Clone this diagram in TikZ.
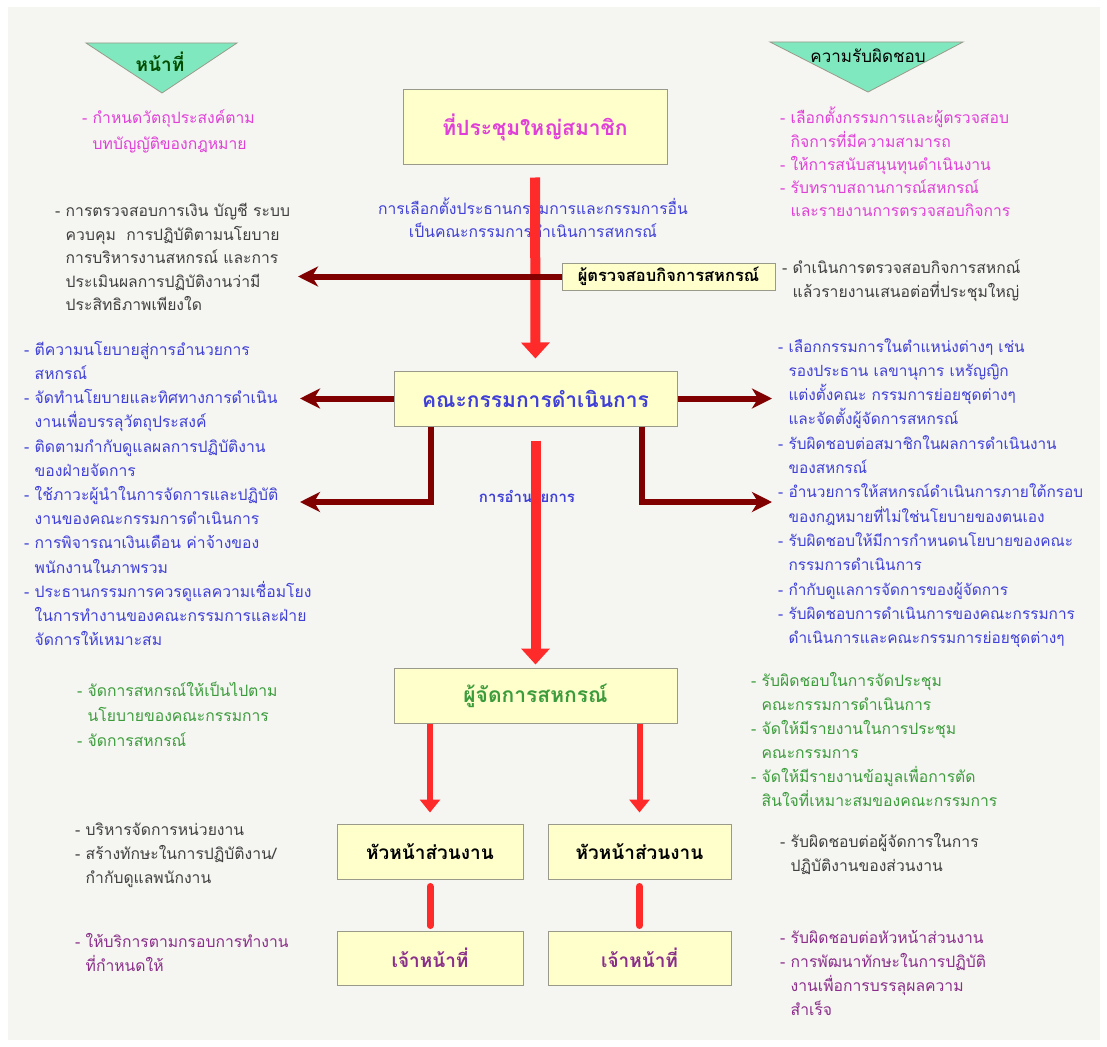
\documentclass[tikz,border=0pt]{standalone}
\usepackage{fontspec}
\newfontfamily\thaifont[Script=Thai]{Loma}
\usetikzlibrary{positioning,arrows.meta}
\definecolor{paper}{HTML}{F5F5F1}
\definecolor{boxfill}{HTML}{FFFFCC}
\definecolor{boxline}{HTML}{9A9A8A}
\definecolor{mint}{HTML}{80E8BE}
\definecolor{pinktxt}{HTML}{E040D8}
\definecolor{bluetxt}{HTML}{4040D8}
\definecolor{greentxt}{HTML}{3C9C3C}
\definecolor{greytxt}{HTML}{404040}
\definecolor{purpletxt}{HTML}{8A2E8A}
\definecolor{arrowred}{HTML}{FF2A2A}
\definecolor{darkred}{HTML}{800000}
\newcommand\indl{\phantom{-\ }}

\begin{document}
\begin{tikzpicture}[x=1pt,y=-1pt,
  every node/.style={font=\thaifont},
  orgbox/.style={draw=boxline, fill=boxfill, line width=1pt, inner sep=0pt},
  titlefont/.style={font=\thaifont\bfseries\fontsize{21}{24}\selectfont},
  unitfont/.style={font=\thaifont\bfseries\fontsize{19}{22}\selectfont},
  notes/.style={anchor=north west, align=left, inner sep=0pt, font=\thaifont\fontsize{15.7}{24}\selectfont},
  bigred/.style={draw=arrowred, line width=10pt, -{Triangle[width=28pt,length=16pt]}},
  smallred/.style={draw=arrowred, line width=6pt, -{Triangle[width=20pt,length=13pt]}},
  redlink/.style={draw=arrowred, line width=7pt, line cap=round},
  darkarrow/.style={draw=darkred, line width=6pt, -{Stealth[width=20pt,length=20pt,inset=6pt]}}
  ]
	%% page and background
	\fill[white] (0,0) rectangle (1107,1046);
	\fill[paper] (8,7) rectangle (1100,1040);
	\useasboundingbox (0,0) rectangle (1107,1046);

	% heading triangles
	\filldraw[fill=mint, draw=boxline, line width=0.8pt] (86,43) -- (237,43) -- (162,93) -- cycle;
	\filldraw[fill=mint, draw=boxline, line width=0.8pt] (770,42) -- (963,42) -- (868,92) -- cycle;
	\node[text=green!30!black, font=\thaifont\bfseries\fontsize{19}{22}\selectfont] (dutyHead) at (160,62) {หน้าที่};
	\node[text=black, font=\thaifont\fontsize{17}{20}\selectfont] (respHead) at (868,56) {ความรับผิดชอบ};

	% boxes of the chart
	\node[orgbox, titlefont, text=pinktxt, minimum width=264pt, minimum height=74pt] (meeting) at (535,127) {ที่ประชุมใหญ่สมาชิก};
	\node[orgbox, font=\thaifont\bfseries\fontsize{16.5}{20}\selectfont, minimum width=213pt, minimum height=27pt] (auditor) at (668.5,276.5) {ผู้ตรวจสอบกิจการสหกรณ์};
	\node[orgbox, titlefont, text=bluetxt, minimum width=283pt, minimum height=55pt] (board) at (535.5,398.5) {คณะกรรมการดำเนินการ};
	\node[orgbox, titlefont, text=greentxt, minimum width=283pt, minimum height=55pt] (manager) at (535.5,695.5) {ผู้จัดการสหกรณ์};
	\node[orgbox, unitfont, minimum width=186pt, minimum height=55pt] (head1) at (430,851.5) {หัวหน้าส่วนงาน};
	\node[orgbox, unitfont, minimum width=183pt, minimum height=55pt] (head2) at (639.5,851.5) {หัวหน้าส่วนงาน};
	\node[orgbox, unitfont, text=purpletxt, minimum width=186pt, minimum height=54pt] (staff1) at (430,958) {เจ้าหน้าที่};
	\node[orgbox, unitfont, text=purpletxt, minimum width=183pt, minimum height=54pt] (staff2) at (639.5,958) {เจ้าหน้าที่};

	% labels on the main line
	\node[align=center, inner sep=0pt, text=bluetxt, font=\thaifont\fontsize{15.7}{23}\selectfont] (electNote) at (533,218) {การเลือกตั้งประธานกรรมการและกรรมการอื่น\\เป็นคณะกรรมการดำเนินการสหกรณ์};
	\node[text=bluetxt, font=\thaifont\bfseries\fontsize{15}{20}\selectfont] (directing) at (527,496) {การอำนวยการ};

	% duties (left) and responsibilities (right)
	\node[notes, text=pinktxt, font=\thaifont\fontsize{15.7}{26}\selectfont] (meetDuty) at (82,110) {- กำหนดวัตถุประสงค์ตาม\\\indl บทบัญญัติของกฎหมาย};
	\node[notes, text=greytxt, font=\thaifont\fontsize{15.7}{23.5}\selectfont] (auditDuty) at (55,203) {- การตรวจสอบการเงิน บัญชี ระบบ\\\indl ควบคุม\ \ การปฏิบัติตามนโยบาย\\\indl การบริหารงานสหกรณ์ และการ\\\indl ประเมินผลการปฏิบัติงานว่ามี\\\indl ประสิทธิภาพเพียงใด};
	\node[notes, text=pinktxt, font=\thaifont\fontsize{15.7}{23.2}\selectfont] (meetResp) at (780,107) {- เลือกตั้งกรรมการและผู้ตรวจสอบ\\\indl กิจการที่มีความสามารถ\\- ให้การสนับสนุนทุนดำเนินงาน\\- รับทราบสถานการณ์สหกรณ์\\\indl และรายงานการตรวจสอบกิจการ};
	\node[notes, text=greytxt] (auditResp) at (782,260) {- ดำเนินการตรวจสอบกิจการสหกณ์\\\indl แล้วรายงานเสนอต่อที่ประชุมใหญ่};
	\node[notes, text=bluetxt, font=\thaifont\fontsize{15.7}{24.2}\selectfont] (boardDuty) at (24,341) {- ตีความนโยบายสู่การอำนวยการ\\\indl สหกรณ์\\- จัดทำนโยบายและทิศทางการดำเนิน\\\indl งานเพื่อบรรลุวัตถุประสงค์\\- ติดตามกำกับดูแลผลการปฏิบัติงาน\\\indl ของฝ่ายจัดการ\\- ใช้ภาวะผู้นำในการจัดการและปฏิบัติ\\\indl งานของคณะกรรมการดำเนินการ\\- การพิจารณาเงินเดือน ค่าจ้างของ\\\indl พนักงานในภาพรวม\\- ประธานกรรมการควรดูแลความเชื่อมโยง\\\indl ในการทำงานของคณะกรรมการและฝ่าย\\\indl จัดการให้เหมาะสม};
	\node[notes, text=bluetxt, font=\thaifont\fontsize{15.4}{24.3}\selectfont] (boardResp) at (778,338) {- เลือกกรรมการในตำแหน่งต่างๆ เช่น\\\indl รองประธาน เลขานุการ เหรัญญิก\\\indl แต่งตั้งคณะ กรรมการย่อยชุดต่างๆ\\\indl และจัดตั้งผู้จัดการสหกรณ์\\- รับผิดชอบต่อสมาชิกในผลการดำเนินงาน\\\indl ของสหกรณ์\\- อำนวยการให้สหกรณ์ดำเนินการภายใต้กรอบ\\\indl ของกฎหมายที่ไม่ใช่นโยบายของตนเอง\\- รับผิดชอบให้มีการกำหนดนโยบายของคณะ\\\indl กรรมการดำเนินการ\\- กำกับดูแลการจัดการของผู้จัดการ\\- รับผิดชอบการดำเนินการของคณะกรรมการ\\\indl ดำเนินการและคณะกรรมการย่อยชุดต่างๆ};
	\node[notes, text=greentxt, font=\thaifont\fontsize{15.7}{25}\selectfont] (managerDuty) at (77,682) {- จัดการสหกรณ์ให้เป็นไปตาม\\\indl นโยบายของคณะกรรมการ\\- จัดการสหกรณ์};
	\node[notes, text=greentxt] (managerResp) at (751,672) {- รับผิดชอบในการจัดประชุม\\\indl คณะกรรมการดำเนินการ\\- จัดให้มีรายงานในการประชุม\\\indl คณะกรรมการ\\- จัดให้มีรายงานข้อมูลเพื่อการตัด\\\indl สินใจที่เหมาะสมของคณะกรรมการ};
	\node[notes, text=greytxt] (headDuty) at (75,823) {- บริหารจัดการหน่วยงาน\\- สร้างทักษะในการปฏิบัติงาน/\\\indl กำกับดูแลพนักงาน};
	\node[notes, text=greytxt] (headResp) at (780,833) {- รับผิดชอบต่อผู้จัดการในการ\\\indl ปฏิบัติงานของส่วนงาน};
	\node[notes, text=purpletxt] (staffDuty) at (75,933) {- ให้บริการตามกรอบการทำงาน\\\indl ที่กำหนดให้};
	\node[notes, text=purpletxt] (staffResp) at (780,930) {- รับผิดชอบต่อหัวหน้าส่วนงาน\\- การพัฒนาทักษะในการปฏิบัติ\\\indl งานเพื่อการบรรลุผลความ\\\indl สำเร็จ};

	% free ends of the dark arrows
	\coordinate (auditTip) at (298,276.5);
	\coordinate (tipL1) at (300,398.5);
	\coordinate (tipR1) at (772,398.5);
	\coordinate (tipL2) at (300,502);
	\coordinate (tipR2) at (772,502);

	% red main line
	\draw[bigred, shorten <=13pt, shorten >=12pt] (meeting) -- (board);
	\draw[bigred, shorten <=14pt, shorten >=3pt] (board) -- (manager);
	\draw[smallred, shorten >=11pt] (manager.south -| head1) -- (head1);
	\draw[smallred, shorten >=11pt] (manager.south -| head2) -- (head2);
	\draw[redlink, shorten <=7pt, shorten >=5pt] (head1) -- (staff1);
	\draw[redlink, shorten <=7pt, shorten >=5pt] (head2) -- (staff2);

	% dark red arrows
	\draw[darkarrow] (auditor.west) -- (auditTip);
	\draw[darkarrow] (board.west) -- (tipL1);
	\draw[darkarrow] (board.east) -- (tipR1);
	\draw[darkarrow] ([xshift=37pt]board.south west) |- (tipL2);
	\draw[darkarrow] ([xshift=-36pt]board.south east) |- (tipR2);
\end{tikzpicture}
\end{document}
